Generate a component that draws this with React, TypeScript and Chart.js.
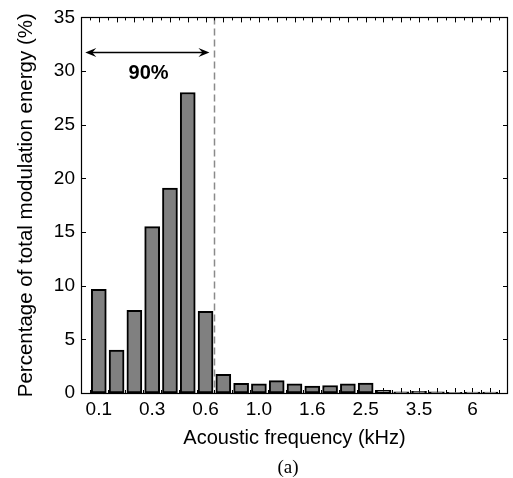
import { useEffect, useRef } from 'react';
import { Chart, registerables } from 'chart.js';

Chart.register(...registerables);

// Percentage of total modulation energy per acoustic frequency band (bands 1..23)
const bandValues = [9.65, 4.0, 7.7, 15.5, 19.1, 28.0, 7.6, 1.75, 0.9, 0.85, 1.15, 0.85, 0.65, 0.7, 0.85, 0.92, 0.25, 0.1, 0.15, 0.1, 0.06, 0.08, 0.08];
// Tick labels (kHz) shown every third band, starting at band 1
const xTickLabels = ['0.1', '0.3', '0.6', '1.0', '1.6', '2.5', '3.5', '6'];
const xTickEvery = 3;
const xMin = 0;
const xMax = 24;
const yMin = 0;
const yMax = 35;
const yStep = 5;
// Annotations (in data units)
const cutoffBand = 7.45;
const arrowFrom = 0.24;
const arrowTo = 7.22;
const arrowLevel = 31.8;
const annotationText = '90%';
const annotationX = 3.8;
const annotationY = 29.8;
const panelLabel = '(a)';

const SANS = '"Liberation Sans", Arial, Helvetica, sans-serif';

export default function App() {
  const ref = useRef<HTMLCanvasElement | null>(null);

  useEffect(() => {
    if (!ref.current) return;

    const axesPlugin = {
      id: 'matlabAxes',
      beforeDatasetsDraw(chart: any) {
        const { ctx, chartArea: a, scales } = chart;
        const xs = scales.x;
        const ys = scales.y;
        ctx.save();
        // dashed cutoff line
        ctx.strokeStyle = '#8a8a8a';
        ctx.lineWidth = 1.5;
        ctx.setLineDash([7, 4]);
        const cx = Math.round(xs.getPixelForValue(cutoffBand)) + 0.5;
        ctx.beginPath();
        ctx.moveTo(cx, ys.getPixelForValue(yMax));
        ctx.lineTo(cx, ys.getPixelForValue(yMin));
        ctx.stroke();
        ctx.setLineDash([]);
        // inward ticks
        ctx.strokeStyle = '#000';
        ctx.lineWidth = 1;
        for (let v = xMin + 0.5; v < xMax; v += 0.5) {
          const px = Math.round(xs.getPixelForValue(v)) + 0.5;
          const len = Number.isInteger(v) ? 5 : 3;
          ctx.beginPath();
          ctx.moveTo(px, a.top);
          ctx.lineTo(px, a.top + len);
          ctx.moveTo(px, a.bottom);
          ctx.lineTo(px, a.bottom - len);
          ctx.stroke();
        }
        for (let v = yMin + yStep; v < yMax; v += yStep) {
          const py = Math.round(ys.getPixelForValue(v)) + 0.5;
          ctx.beginPath();
          ctx.moveTo(a.left, py);
          ctx.lineTo(a.left + 5, py);
          ctx.moveTo(a.right, py);
          ctx.lineTo(a.right - 5, py);
          ctx.stroke();
        }
        // box
        ctx.lineWidth = 1.2;
        ctx.strokeRect(Math.round(a.left) + 0.5, Math.round(a.top) + 0.5, Math.round(a.right - a.left) - 1, Math.round(a.bottom - a.top));
        ctx.restore();
      },
      afterDraw(chart: any) {
        const { ctx, scales } = chart;
        const xs = scales.x;
        const ys = scales.y;
        ctx.save();
        // double arrow
        const x1 = xs.getPixelForValue(arrowFrom);
        const x2 = xs.getPixelForValue(arrowTo);
        const y = Math.round(ys.getPixelForValue(arrowLevel)) + 0.5;
        ctx.strokeStyle = '#000';
        ctx.fillStyle = '#000';
        ctx.lineWidth = 1.5;
        ctx.beginPath();
        ctx.moveTo(x1 + 4, y);
        ctx.lineTo(x2 - 4, y);
        ctx.stroke();
        const head = (tip: number, dir: number) => {
          ctx.beginPath();
          ctx.moveTo(tip, y);
          ctx.lineTo(tip - dir * 11, y - 4.5);
          ctx.lineTo(tip - dir * 7, y);
          ctx.lineTo(tip - dir * 11, y + 4.5);
          ctx.closePath();
          ctx.fill();
        };
        head(x1, -1);
        head(x2, 1);
        // label
        ctx.font = 'bold 20px ' + SANS;
        ctx.textAlign = 'center';
        ctx.textBaseline = 'middle';
        ctx.fillText(annotationText, xs.getPixelForValue(annotationX), ys.getPixelForValue(annotationY));
        // panel label
        ctx.font = '19px "Liberation Serif", "Times New Roman", serif';
        ctx.textBaseline = 'alphabetic';
        ctx.fillText(panelLabel, 288, 473);
        ctx.restore();
      },
    };

    const chart = new Chart(ref.current, {
      type: 'bar',
      data: {
        datasets: [
          {
            data: bandValues.map((v, i) => ({ x: i + 1, y: v })),
            backgroundColor: '#808080',
            borderColor: '#000000',
            borderWidth: 2,
            borderSkipped: false,
            categoryPercentage: 1,
            barThickness: 15,
          },
        ],
      },
      options: {
        responsive: false,
        animation: false,
        events: [],
        layout: { padding: { top: 13, right: 2, left: 0, bottom: 0 } },
        plugins: { legend: { display: false }, tooltip: { enabled: false } },
        scales: {
          x: {
            type: 'linear',
            min: xMin,
            max: xMax,
            offset: false,
            grid: { display: false, drawTicks: false },
            border: { display: false },
            ticks: {
              stepSize: 0.5,
              autoSkip: false,
              maxRotation: 0,
              minRotation: 0,
              padding: 5,
              color: '#000',
              font: { family: SANS, size: 19 },
              callback: (value: any) => {
                const v = Number(value);
                if (!Number.isInteger(v) || v < 1) return '';
                if ((v - 1) % xTickEvery !== 0) return '';
                const idx = (v - 1) / xTickEvery;
                return xTickLabels[idx] ?? '';
              },
            },
            title: {
              display: true,
              text: 'Acoustic frequency (kHz)',
              color: '#000',
              font: { family: SANS, size: 20 },
              padding: { top: 0, bottom: 28 },
            },
            afterFit: (s: any) => {
              s.height = 85;
            },
          },
          y: {
            min: yMin,
            max: yMax,
            grid: { display: false, drawTicks: false },
            border: { display: false },
            ticks: {
              stepSize: yStep,
              padding: 6,
              color: '#000',
              font: { family: SANS, size: 19 },
            },
            title: {
              display: true,
              text: 'Percentage of total modulation energy (%)',
              color: '#000',
              font: { family: SANS, size: 20.5 },
              padding: { top: 14, bottom: 0 },
            },
            afterFit: (s: any) => {
              s.width = 81;
            },
          },
        },
      },
      plugins: [axesPlugin],
    } as any);

    return () => chart.destroy();
  }, []);

  return (
    <div style={{ position: 'absolute', left: 0, top: 0, width: 513, height: 478, background: '#fff' }}>
      <canvas ref={ref} width={513} height={478} style={{ display: 'block' }} />
    </div>
  );
}
